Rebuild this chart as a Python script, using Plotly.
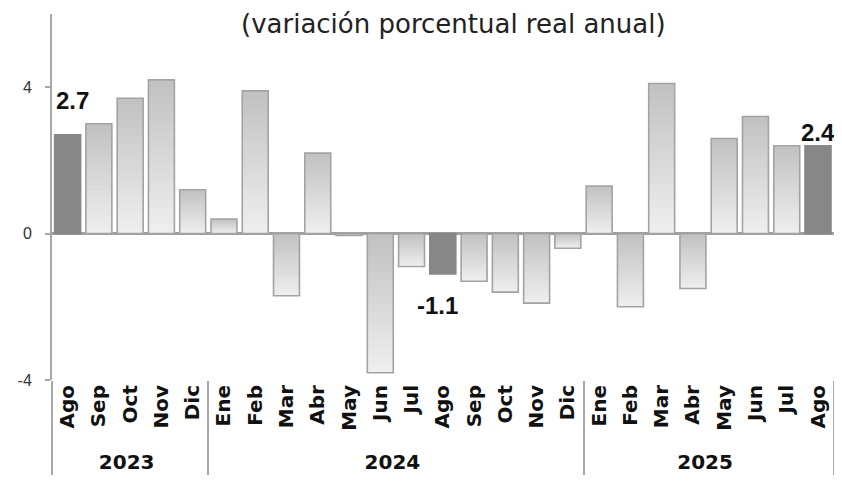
import plotly.graph_objects as go

years = ["2023"] * 5 + ["2024"] * 12 + ["2025"] * 8
months = ["Ago", "Sep", "Oct", "Nov", "Dic",
          "Ene", "Feb", "Mar", "Abr", "May", "Jun", "Jul", "Ago", "Sep", "Oct", "Nov", "Dic",
          "Ene", "Feb", "Mar", "Abr", "May", "Jun", "Jul", "Ago"]
values = [2.7, 3.0, 3.7, 4.2, 1.2,
          0.4, 3.9, -1.7, 2.2, -0.05, -3.8, -0.9, -1.1, -1.3, -1.6, -1.9, -0.4,
          1.3, -2.0, 4.1, -1.5, 2.6, 3.2, 2.4, 2.4]
highlight = [0, 12, 24]  # indices of "Ago" bars shown in dark gray with labels

title_text = "(variación porcentual real anual)"

# make repeated month names unique (zero-width spaces) so the multicategory
# axis keeps chronological order
seen = {}
month_keys = []
for m in months:
    k = seen.get(m, 0)
    month_keys.append(m + "\u200b" * k)
    seen[m] = k + 1
xcats = [years, month_keys]


def lerp_gray(a, b, t):
    g = round(a + (b - a) * t)
    return f"rgb({g},{g},{g})"


DARK_G, LIGHT_G = 0xC2, 0xEE   # gradient: darker at top, lighter at bottom
HIGHLIGHT = "#878787"
N_STEPS = 18

fig = go.Figure()
# vertical gradient fill, built from overlapping bars of the same values
for k in range(N_STEPS):
    frac = (N_STEPS - k) / N_STEPS
    col = lerp_gray(DARK_G, LIGHT_G, k / (N_STEPS - 1))
    fig.add_trace(go.Bar(
        x=xcats,
        y=[v * frac for v in values],
        base=[0 if v >= 0 else v * (1 - frac) for v in values],
        marker=dict(color=[HIGHLIGHT if i in highlight else col for i in range(len(values))],
                    line=dict(width=0)),
        hoverinfo="skip",
    ))
# outline
fig.add_trace(go.Bar(
    x=xcats,
    y=values,
    marker=dict(color="rgba(0,0,0,0)",
                line=dict(color=["#878787" if i in highlight else "#a3a3a3" for i in range(len(values))],
                          width=1.6)),
    hoverinfo="skip",
))

# value labels
label_font = dict(family="Liberation Sans", size=24, color="#111111", weight="bold")
for i in highlight:
    v = values[i]
    fig.add_annotation(
        x=i, y=v, xref="x", yref="y",
        text=f"{v:.1f}",
        showarrow=False,
        font=label_font,
        yanchor="bottom" if v >= 0 else "top",
        yshift=(19 if i == 0 else -2) if v >= 0 else -16,
        xshift=5 if i == 0 else (-5 if v < 0 else 0),
    )

fig.add_annotation(
    xref="paper", yref="paper", x=0.511, y=1, yanchor="top", yshift=7,
    text=title_text, showarrow=False,
    font=dict(family="DejaVu Sans", size=26, color="#222222"),
)

fig.update_layout(
    width=842, height=482,
    margin=dict(l=44, r=13, t=6, b=110),
    paper_bgcolor="white", plot_bgcolor="white",
    barmode="overlay",
    bargap=0.17,
    showlegend=False,
)
fig.update_xaxes(
    type="multicategory",
    tickangle=-90,
    tickfont=dict(family="DejaVu Sans", size=20, color="#111111", weight="bold"),
    showline=False,
    ticks="",
    showdividers=True,
    dividercolor="#a8a8a8",
    dividerwidth=2,
    showgrid=False,
)
fig.update_yaxes(
    range=[-4, 6],
    tickvals=[-4, 0, 4],
    ticktext=["-4", "0", "4"],
    tickfont=dict(family="Liberation Sans", size=16, color="#333333"),
    ticklabelstandoff=10,
    showline=True, linecolor="#a8a8a8", linewidth=2,
    ticks="outside", ticklen=5, tickcolor="#a8a8a8", tickwidth=1.5,
    showgrid=False,
    zeroline=True, zerolinecolor="#a0a0a0", zerolinewidth=2.5,
)

fig.write_html("out.html")
